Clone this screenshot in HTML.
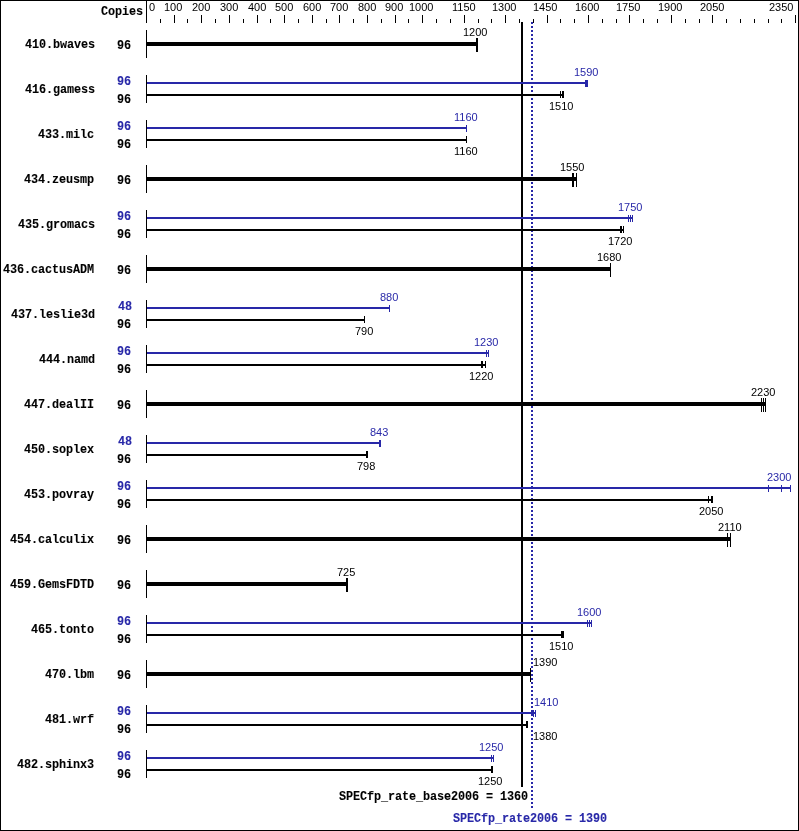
<!DOCTYPE html>
<html><head><meta charset="utf-8"><style>
html,body{margin:0;padding:0;background:#fff;}
body{width:799px;height:831px;position:relative;overflow:hidden;}
.r{position:absolute;}
.n{position:absolute;font-family:"Liberation Sans",sans-serif;font-size:11px;line-height:11px;white-space:nowrap;will-change:transform;}
.m{position:absolute;font-family:"Liberation Mono",monospace;font-weight:bold;font-size:11.8px;letter-spacing:-0.08px;line-height:12px;white-space:nowrap;transform:scaleY(1.07);transform-origin:0 0;-webkit-text-stroke:0.1px currentColor;will-change:transform;}
</style></head><body>
<div class="r" style="left:0px;top:0px;width:799px;height:1px;background:#000"></div><div class="r" style="left:0px;top:830px;width:799px;height:1px;background:#000"></div><div class="r" style="left:0px;top:0px;width:1px;height:831px;background:#000"></div><div class="r" style="left:798px;top:0px;width:1px;height:831px;background:#000"></div><div class="r" style="left:146px;top:0px;width:1px;height:23px;background:#000"></div><div class="r" style="left:146px;top:15px;width:1px;height:8px;background:#000"></div><div class="r" style="left:174px;top:15px;width:1px;height:8px;background:#000"></div><div class="r" style="left:201px;top:15px;width:1px;height:8px;background:#000"></div><div class="r" style="left:229px;top:15px;width:1px;height:8px;background:#000"></div><div class="r" style="left:257px;top:15px;width:1px;height:8px;background:#000"></div><div class="r" style="left:284px;top:15px;width:1px;height:8px;background:#000"></div><div class="r" style="left:312px;top:15px;width:1px;height:8px;background:#000"></div><div class="r" style="left:339px;top:15px;width:1px;height:8px;background:#000"></div><div class="r" style="left:367px;top:15px;width:1px;height:8px;background:#000"></div><div class="r" style="left:395px;top:15px;width:1px;height:8px;background:#000"></div><div class="r" style="left:422px;top:15px;width:1px;height:8px;background:#000"></div><div class="r" style="left:464px;top:15px;width:1px;height:8px;background:#000"></div><div class="r" style="left:505px;top:15px;width:1px;height:8px;background:#000"></div><div class="r" style="left:547px;top:15px;width:1px;height:8px;background:#000"></div><div class="r" style="left:588px;top:15px;width:1px;height:8px;background:#000"></div><div class="r" style="left:629px;top:15px;width:1px;height:8px;background:#000"></div><div class="r" style="left:671px;top:15px;width:1px;height:8px;background:#000"></div><div class="r" style="left:712px;top:15px;width:1px;height:8px;background:#000"></div><div class="r" style="left:795px;top:15px;width:1px;height:8px;background:#000"></div><div class="r" style="left:160px;top:19px;width:1px;height:4px;background:#000"></div><div class="r" style="left:187px;top:19px;width:1px;height:4px;background:#000"></div><div class="r" style="left:215px;top:19px;width:1px;height:4px;background:#000"></div><div class="r" style="left:243px;top:19px;width:1px;height:4px;background:#000"></div><div class="r" style="left:270px;top:19px;width:1px;height:4px;background:#000"></div><div class="r" style="left:298px;top:19px;width:1px;height:4px;background:#000"></div><div class="r" style="left:326px;top:19px;width:1px;height:4px;background:#000"></div><div class="r" style="left:353px;top:19px;width:1px;height:4px;background:#000"></div><div class="r" style="left:381px;top:19px;width:1px;height:4px;background:#000"></div><div class="r" style="left:408px;top:19px;width:1px;height:4px;background:#000"></div><div class="r" style="left:436px;top:19px;width:1px;height:4px;background:#000"></div><div class="r" style="left:450px;top:19px;width:1px;height:4px;background:#000"></div><div class="r" style="left:478px;top:19px;width:1px;height:4px;background:#000"></div><div class="r" style="left:491px;top:19px;width:1px;height:4px;background:#000"></div><div class="r" style="left:519px;top:19px;width:1px;height:4px;background:#000"></div><div class="r" style="left:533px;top:19px;width:1px;height:4px;background:#000"></div><div class="r" style="left:560px;top:19px;width:1px;height:4px;background:#000"></div><div class="r" style="left:574px;top:19px;width:1px;height:4px;background:#000"></div><div class="r" style="left:602px;top:19px;width:1px;height:4px;background:#000"></div><div class="r" style="left:616px;top:19px;width:1px;height:4px;background:#000"></div><div class="r" style="left:643px;top:19px;width:1px;height:4px;background:#000"></div><div class="r" style="left:657px;top:19px;width:1px;height:4px;background:#000"></div><div class="r" style="left:685px;top:19px;width:1px;height:4px;background:#000"></div><div class="r" style="left:699px;top:19px;width:1px;height:4px;background:#000"></div><div class="r" style="left:726px;top:19px;width:1px;height:4px;background:#000"></div><div class="r" style="left:740px;top:19px;width:1px;height:4px;background:#000"></div><div class="r" style="left:754px;top:19px;width:1px;height:4px;background:#000"></div><div class="r" style="left:768px;top:19px;width:1px;height:4px;background:#000"></div><div class="r" style="left:781px;top:19px;width:1px;height:4px;background:#000"></div><div class="r" style="left:521px;top:22px;width:2px;height:765px;background:#000"></div><div class="r" style="left:531px;top:22px;width:2px;height:2px;background:#2828a8"></div><div class="r" style="left:531px;top:26px;width:2px;height:2px;background:#2828a8"></div><div class="r" style="left:531px;top:30px;width:2px;height:2px;background:#2828a8"></div><div class="r" style="left:531px;top:34px;width:2px;height:2px;background:#2828a8"></div><div class="r" style="left:531px;top:38px;width:2px;height:2px;background:#2828a8"></div><div class="r" style="left:531px;top:42px;width:2px;height:2px;background:#2828a8"></div><div class="r" style="left:531px;top:46px;width:2px;height:2px;background:#2828a8"></div><div class="r" style="left:531px;top:50px;width:2px;height:2px;background:#2828a8"></div><div class="r" style="left:531px;top:54px;width:2px;height:2px;background:#2828a8"></div><div class="r" style="left:531px;top:58px;width:2px;height:2px;background:#2828a8"></div><div class="r" style="left:531px;top:62px;width:2px;height:2px;background:#2828a8"></div><div class="r" style="left:531px;top:66px;width:2px;height:2px;background:#2828a8"></div><div class="r" style="left:531px;top:70px;width:2px;height:2px;background:#2828a8"></div><div class="r" style="left:531px;top:74px;width:2px;height:2px;background:#2828a8"></div><div class="r" style="left:531px;top:78px;width:2px;height:2px;background:#2828a8"></div><div class="r" style="left:531px;top:82px;width:2px;height:2px;background:#2828a8"></div><div class="r" style="left:531px;top:86px;width:2px;height:2px;background:#2828a8"></div><div class="r" style="left:531px;top:90px;width:2px;height:2px;background:#2828a8"></div><div class="r" style="left:531px;top:94px;width:2px;height:2px;background:#2828a8"></div><div class="r" style="left:531px;top:98px;width:2px;height:2px;background:#2828a8"></div><div class="r" style="left:531px;top:102px;width:2px;height:2px;background:#2828a8"></div><div class="r" style="left:531px;top:106px;width:2px;height:2px;background:#2828a8"></div><div class="r" style="left:531px;top:110px;width:2px;height:2px;background:#2828a8"></div><div class="r" style="left:531px;top:114px;width:2px;height:2px;background:#2828a8"></div><div class="r" style="left:531px;top:118px;width:2px;height:2px;background:#2828a8"></div><div class="r" style="left:531px;top:122px;width:2px;height:2px;background:#2828a8"></div><div class="r" style="left:531px;top:126px;width:2px;height:2px;background:#2828a8"></div><div class="r" style="left:531px;top:130px;width:2px;height:2px;background:#2828a8"></div><div class="r" style="left:531px;top:134px;width:2px;height:2px;background:#2828a8"></div><div class="r" style="left:531px;top:138px;width:2px;height:2px;background:#2828a8"></div><div class="r" style="left:531px;top:142px;width:2px;height:2px;background:#2828a8"></div><div class="r" style="left:531px;top:146px;width:2px;height:2px;background:#2828a8"></div><div class="r" style="left:531px;top:150px;width:2px;height:2px;background:#2828a8"></div><div class="r" style="left:531px;top:154px;width:2px;height:2px;background:#2828a8"></div><div class="r" style="left:531px;top:158px;width:2px;height:2px;background:#2828a8"></div><div class="r" style="left:531px;top:162px;width:2px;height:2px;background:#2828a8"></div><div class="r" style="left:531px;top:166px;width:2px;height:2px;background:#2828a8"></div><div class="r" style="left:531px;top:170px;width:2px;height:2px;background:#2828a8"></div><div class="r" style="left:531px;top:174px;width:2px;height:2px;background:#2828a8"></div><div class="r" style="left:531px;top:178px;width:2px;height:2px;background:#2828a8"></div><div class="r" style="left:531px;top:182px;width:2px;height:2px;background:#2828a8"></div><div class="r" style="left:531px;top:186px;width:2px;height:2px;background:#2828a8"></div><div class="r" style="left:531px;top:190px;width:2px;height:2px;background:#2828a8"></div><div class="r" style="left:531px;top:194px;width:2px;height:2px;background:#2828a8"></div><div class="r" style="left:531px;top:198px;width:2px;height:2px;background:#2828a8"></div><div class="r" style="left:531px;top:202px;width:2px;height:2px;background:#2828a8"></div><div class="r" style="left:531px;top:206px;width:2px;height:2px;background:#2828a8"></div><div class="r" style="left:531px;top:210px;width:2px;height:2px;background:#2828a8"></div><div class="r" style="left:531px;top:214px;width:2px;height:2px;background:#2828a8"></div><div class="r" style="left:531px;top:218px;width:2px;height:2px;background:#2828a8"></div><div class="r" style="left:531px;top:222px;width:2px;height:2px;background:#2828a8"></div><div class="r" style="left:531px;top:226px;width:2px;height:2px;background:#2828a8"></div><div class="r" style="left:531px;top:230px;width:2px;height:2px;background:#2828a8"></div><div class="r" style="left:531px;top:234px;width:2px;height:2px;background:#2828a8"></div><div class="r" style="left:531px;top:238px;width:2px;height:2px;background:#2828a8"></div><div class="r" style="left:531px;top:242px;width:2px;height:2px;background:#2828a8"></div><div class="r" style="left:531px;top:246px;width:2px;height:2px;background:#2828a8"></div><div class="r" style="left:531px;top:250px;width:2px;height:2px;background:#2828a8"></div><div class="r" style="left:531px;top:254px;width:2px;height:2px;background:#2828a8"></div><div class="r" style="left:531px;top:258px;width:2px;height:2px;background:#2828a8"></div><div class="r" style="left:531px;top:262px;width:2px;height:2px;background:#2828a8"></div><div class="r" style="left:531px;top:266px;width:2px;height:2px;background:#2828a8"></div><div class="r" style="left:531px;top:270px;width:2px;height:2px;background:#2828a8"></div><div class="r" style="left:531px;top:274px;width:2px;height:2px;background:#2828a8"></div><div class="r" style="left:531px;top:278px;width:2px;height:2px;background:#2828a8"></div><div class="r" style="left:531px;top:282px;width:2px;height:2px;background:#2828a8"></div><div class="r" style="left:531px;top:286px;width:2px;height:2px;background:#2828a8"></div><div class="r" style="left:531px;top:290px;width:2px;height:2px;background:#2828a8"></div><div class="r" style="left:531px;top:294px;width:2px;height:2px;background:#2828a8"></div><div class="r" style="left:531px;top:298px;width:2px;height:2px;background:#2828a8"></div><div class="r" style="left:531px;top:302px;width:2px;height:2px;background:#2828a8"></div><div class="r" style="left:531px;top:306px;width:2px;height:2px;background:#2828a8"></div><div class="r" style="left:531px;top:310px;width:2px;height:2px;background:#2828a8"></div><div class="r" style="left:531px;top:314px;width:2px;height:2px;background:#2828a8"></div><div class="r" style="left:531px;top:318px;width:2px;height:2px;background:#2828a8"></div><div class="r" style="left:531px;top:322px;width:2px;height:2px;background:#2828a8"></div><div class="r" style="left:531px;top:326px;width:2px;height:2px;background:#2828a8"></div><div class="r" style="left:531px;top:330px;width:2px;height:2px;background:#2828a8"></div><div class="r" style="left:531px;top:334px;width:2px;height:2px;background:#2828a8"></div><div class="r" style="left:531px;top:338px;width:2px;height:2px;background:#2828a8"></div><div class="r" style="left:531px;top:342px;width:2px;height:2px;background:#2828a8"></div><div class="r" style="left:531px;top:346px;width:2px;height:2px;background:#2828a8"></div><div class="r" style="left:531px;top:350px;width:2px;height:2px;background:#2828a8"></div><div class="r" style="left:531px;top:354px;width:2px;height:2px;background:#2828a8"></div><div class="r" style="left:531px;top:358px;width:2px;height:2px;background:#2828a8"></div><div class="r" style="left:531px;top:362px;width:2px;height:2px;background:#2828a8"></div><div class="r" style="left:531px;top:366px;width:2px;height:2px;background:#2828a8"></div><div class="r" style="left:531px;top:370px;width:2px;height:2px;background:#2828a8"></div><div class="r" style="left:531px;top:374px;width:2px;height:2px;background:#2828a8"></div><div class="r" style="left:531px;top:378px;width:2px;height:2px;background:#2828a8"></div><div class="r" style="left:531px;top:382px;width:2px;height:2px;background:#2828a8"></div><div class="r" style="left:531px;top:386px;width:2px;height:2px;background:#2828a8"></div><div class="r" style="left:531px;top:390px;width:2px;height:2px;background:#2828a8"></div><div class="r" style="left:531px;top:394px;width:2px;height:2px;background:#2828a8"></div><div class="r" style="left:531px;top:398px;width:2px;height:2px;background:#2828a8"></div><div class="r" style="left:531px;top:402px;width:2px;height:2px;background:#2828a8"></div><div class="r" style="left:531px;top:406px;width:2px;height:2px;background:#2828a8"></div><div class="r" style="left:531px;top:410px;width:2px;height:2px;background:#2828a8"></div><div class="r" style="left:531px;top:414px;width:2px;height:2px;background:#2828a8"></div><div class="r" style="left:531px;top:418px;width:2px;height:2px;background:#2828a8"></div><div class="r" style="left:531px;top:422px;width:2px;height:2px;background:#2828a8"></div><div class="r" style="left:531px;top:426px;width:2px;height:2px;background:#2828a8"></div><div class="r" style="left:531px;top:430px;width:2px;height:2px;background:#2828a8"></div><div class="r" style="left:531px;top:434px;width:2px;height:2px;background:#2828a8"></div><div class="r" style="left:531px;top:438px;width:2px;height:2px;background:#2828a8"></div><div class="r" style="left:531px;top:442px;width:2px;height:2px;background:#2828a8"></div><div class="r" style="left:531px;top:446px;width:2px;height:2px;background:#2828a8"></div><div class="r" style="left:531px;top:450px;width:2px;height:2px;background:#2828a8"></div><div class="r" style="left:531px;top:454px;width:2px;height:2px;background:#2828a8"></div><div class="r" style="left:531px;top:458px;width:2px;height:2px;background:#2828a8"></div><div class="r" style="left:531px;top:462px;width:2px;height:2px;background:#2828a8"></div><div class="r" style="left:531px;top:466px;width:2px;height:2px;background:#2828a8"></div><div class="r" style="left:531px;top:470px;width:2px;height:2px;background:#2828a8"></div><div class="r" style="left:531px;top:474px;width:2px;height:2px;background:#2828a8"></div><div class="r" style="left:531px;top:478px;width:2px;height:2px;background:#2828a8"></div><div class="r" style="left:531px;top:482px;width:2px;height:2px;background:#2828a8"></div><div class="r" style="left:531px;top:486px;width:2px;height:2px;background:#2828a8"></div><div class="r" style="left:531px;top:490px;width:2px;height:2px;background:#2828a8"></div><div class="r" style="left:531px;top:494px;width:2px;height:2px;background:#2828a8"></div><div class="r" style="left:531px;top:498px;width:2px;height:2px;background:#2828a8"></div><div class="r" style="left:531px;top:502px;width:2px;height:2px;background:#2828a8"></div><div class="r" style="left:531px;top:506px;width:2px;height:2px;background:#2828a8"></div><div class="r" style="left:531px;top:510px;width:2px;height:2px;background:#2828a8"></div><div class="r" style="left:531px;top:514px;width:2px;height:2px;background:#2828a8"></div><div class="r" style="left:531px;top:518px;width:2px;height:2px;background:#2828a8"></div><div class="r" style="left:531px;top:522px;width:2px;height:2px;background:#2828a8"></div><div class="r" style="left:531px;top:526px;width:2px;height:2px;background:#2828a8"></div><div class="r" style="left:531px;top:530px;width:2px;height:2px;background:#2828a8"></div><div class="r" style="left:531px;top:534px;width:2px;height:2px;background:#2828a8"></div><div class="r" style="left:531px;top:538px;width:2px;height:2px;background:#2828a8"></div><div class="r" style="left:531px;top:542px;width:2px;height:2px;background:#2828a8"></div><div class="r" style="left:531px;top:546px;width:2px;height:2px;background:#2828a8"></div><div class="r" style="left:531px;top:550px;width:2px;height:2px;background:#2828a8"></div><div class="r" style="left:531px;top:554px;width:2px;height:2px;background:#2828a8"></div><div class="r" style="left:531px;top:558px;width:2px;height:2px;background:#2828a8"></div><div class="r" style="left:531px;top:562px;width:2px;height:2px;background:#2828a8"></div><div class="r" style="left:531px;top:566px;width:2px;height:2px;background:#2828a8"></div><div class="r" style="left:531px;top:570px;width:2px;height:2px;background:#2828a8"></div><div class="r" style="left:531px;top:574px;width:2px;height:2px;background:#2828a8"></div><div class="r" style="left:531px;top:578px;width:2px;height:2px;background:#2828a8"></div><div class="r" style="left:531px;top:582px;width:2px;height:2px;background:#2828a8"></div><div class="r" style="left:531px;top:586px;width:2px;height:2px;background:#2828a8"></div><div class="r" style="left:531px;top:590px;width:2px;height:2px;background:#2828a8"></div><div class="r" style="left:531px;top:594px;width:2px;height:2px;background:#2828a8"></div><div class="r" style="left:531px;top:598px;width:2px;height:2px;background:#2828a8"></div><div class="r" style="left:531px;top:602px;width:2px;height:2px;background:#2828a8"></div><div class="r" style="left:531px;top:606px;width:2px;height:2px;background:#2828a8"></div><div class="r" style="left:531px;top:610px;width:2px;height:2px;background:#2828a8"></div><div class="r" style="left:531px;top:614px;width:2px;height:2px;background:#2828a8"></div><div class="r" style="left:531px;top:618px;width:2px;height:2px;background:#2828a8"></div><div class="r" style="left:531px;top:622px;width:2px;height:2px;background:#2828a8"></div><div class="r" style="left:531px;top:626px;width:2px;height:2px;background:#2828a8"></div><div class="r" style="left:531px;top:630px;width:2px;height:2px;background:#2828a8"></div><div class="r" style="left:531px;top:634px;width:2px;height:2px;background:#2828a8"></div><div class="r" style="left:531px;top:638px;width:2px;height:2px;background:#2828a8"></div><div class="r" style="left:531px;top:642px;width:2px;height:2px;background:#2828a8"></div><div class="r" style="left:531px;top:646px;width:2px;height:2px;background:#2828a8"></div><div class="r" style="left:531px;top:650px;width:2px;height:2px;background:#2828a8"></div><div class="r" style="left:531px;top:654px;width:2px;height:2px;background:#2828a8"></div><div class="r" style="left:531px;top:658px;width:2px;height:2px;background:#2828a8"></div><div class="r" style="left:531px;top:662px;width:2px;height:2px;background:#2828a8"></div><div class="r" style="left:531px;top:666px;width:2px;height:2px;background:#2828a8"></div><div class="r" style="left:531px;top:670px;width:2px;height:2px;background:#2828a8"></div><div class="r" style="left:531px;top:674px;width:2px;height:2px;background:#2828a8"></div><div class="r" style="left:531px;top:678px;width:2px;height:2px;background:#2828a8"></div><div class="r" style="left:531px;top:682px;width:2px;height:2px;background:#2828a8"></div><div class="r" style="left:531px;top:686px;width:2px;height:2px;background:#2828a8"></div><div class="r" style="left:531px;top:690px;width:2px;height:2px;background:#2828a8"></div><div class="r" style="left:531px;top:694px;width:2px;height:2px;background:#2828a8"></div><div class="r" style="left:531px;top:698px;width:2px;height:2px;background:#2828a8"></div><div class="r" style="left:531px;top:702px;width:2px;height:2px;background:#2828a8"></div><div class="r" style="left:531px;top:706px;width:2px;height:2px;background:#2828a8"></div><div class="r" style="left:531px;top:710px;width:2px;height:2px;background:#2828a8"></div><div class="r" style="left:531px;top:714px;width:2px;height:2px;background:#2828a8"></div><div class="r" style="left:531px;top:718px;width:2px;height:2px;background:#2828a8"></div><div class="r" style="left:531px;top:722px;width:2px;height:2px;background:#2828a8"></div><div class="r" style="left:531px;top:726px;width:2px;height:2px;background:#2828a8"></div><div class="r" style="left:531px;top:730px;width:2px;height:2px;background:#2828a8"></div><div class="r" style="left:531px;top:734px;width:2px;height:2px;background:#2828a8"></div><div class="r" style="left:531px;top:738px;width:2px;height:2px;background:#2828a8"></div><div class="r" style="left:531px;top:742px;width:2px;height:2px;background:#2828a8"></div><div class="r" style="left:531px;top:746px;width:2px;height:2px;background:#2828a8"></div><div class="r" style="left:531px;top:750px;width:2px;height:2px;background:#2828a8"></div><div class="r" style="left:531px;top:754px;width:2px;height:2px;background:#2828a8"></div><div class="r" style="left:531px;top:758px;width:2px;height:2px;background:#2828a8"></div><div class="r" style="left:531px;top:762px;width:2px;height:2px;background:#2828a8"></div><div class="r" style="left:531px;top:766px;width:2px;height:2px;background:#2828a8"></div><div class="r" style="left:531px;top:770px;width:2px;height:2px;background:#2828a8"></div><div class="r" style="left:531px;top:774px;width:2px;height:2px;background:#2828a8"></div><div class="r" style="left:531px;top:778px;width:2px;height:2px;background:#2828a8"></div><div class="r" style="left:531px;top:782px;width:2px;height:2px;background:#2828a8"></div><div class="r" style="left:531px;top:786px;width:2px;height:2px;background:#2828a8"></div><div class="r" style="left:531px;top:790px;width:2px;height:2px;background:#2828a8"></div><div class="r" style="left:531px;top:794px;width:2px;height:2px;background:#2828a8"></div><div class="r" style="left:531px;top:798px;width:2px;height:2px;background:#2828a8"></div><div class="r" style="left:531px;top:802px;width:2px;height:2px;background:#2828a8"></div><div class="r" style="left:531px;top:806px;width:2px;height:2px;background:#2828a8"></div><div class="r" style="left:146px;top:30px;width:1px;height:28px;background:#000"></div><div class="r" style="left:147px;top:42px;width:330px;height:4px;background:#000"></div><div class="r" style="left:476px;top:38px;width:1px;height:14px;background:#000"></div><div class="r" style="left:477px;top:38px;width:1px;height:14px;background:#000"></div><div class="r" style="left:146px;top:75px;width:1px;height:28px;background:#000"></div><div class="r" style="left:147px;top:82px;width:440px;height:2px;background:#2828a8"></div><div class="r" style="left:585px;top:80px;width:1px;height:7px;background:#2828a8"></div><div class="r" style="left:586px;top:80px;width:1px;height:7px;background:#2828a8"></div><div class="r" style="left:587px;top:80px;width:1px;height:7px;background:#2828a8"></div><div class="r" style="left:147px;top:94px;width:416px;height:2px;background:#000"></div><div class="r" style="left:560px;top:91px;width:1px;height:7px;background:#000"></div><div class="r" style="left:562px;top:91px;width:1px;height:7px;background:#000"></div><div class="r" style="left:563px;top:91px;width:1px;height:7px;background:#000"></div><div class="r" style="left:146px;top:120px;width:1px;height:28px;background:#000"></div><div class="r" style="left:147px;top:127px;width:319px;height:2px;background:#2828a8"></div><div class="r" style="left:466px;top:125px;width:1px;height:7px;background:#2828a8"></div><div class="r" style="left:147px;top:139px;width:319px;height:2px;background:#000"></div><div class="r" style="left:466px;top:136px;width:1px;height:7px;background:#000"></div><div class="r" style="left:146px;top:165px;width:1px;height:28px;background:#000"></div><div class="r" style="left:147px;top:177px;width:429px;height:4px;background:#000"></div><div class="r" style="left:572px;top:173px;width:1px;height:14px;background:#000"></div><div class="r" style="left:573px;top:173px;width:1px;height:14px;background:#000"></div><div class="r" style="left:576px;top:173px;width:1px;height:14px;background:#000"></div><div class="r" style="left:146px;top:210px;width:1px;height:28px;background:#000"></div><div class="r" style="left:147px;top:217px;width:485px;height:2px;background:#2828a8"></div><div class="r" style="left:628px;top:215px;width:1px;height:7px;background:#2828a8"></div><div class="r" style="left:630px;top:215px;width:1px;height:7px;background:#2828a8"></div><div class="r" style="left:632px;top:215px;width:1px;height:7px;background:#2828a8"></div><div class="r" style="left:147px;top:229px;width:476px;height:2px;background:#000"></div><div class="r" style="left:620px;top:226px;width:1px;height:7px;background:#000"></div><div class="r" style="left:621px;top:226px;width:1px;height:7px;background:#000"></div><div class="r" style="left:623px;top:226px;width:1px;height:7px;background:#000"></div><div class="r" style="left:146px;top:255px;width:1px;height:28px;background:#000"></div><div class="r" style="left:147px;top:267px;width:463px;height:4px;background:#000"></div><div class="r" style="left:610px;top:263px;width:1px;height:14px;background:#000"></div><div class="r" style="left:146px;top:300px;width:1px;height:28px;background:#000"></div><div class="r" style="left:147px;top:307px;width:242px;height:2px;background:#2828a8"></div><div class="r" style="left:389px;top:305px;width:1px;height:7px;background:#2828a8"></div><div class="r" style="left:147px;top:319px;width:217px;height:2px;background:#000"></div><div class="r" style="left:364px;top:316px;width:1px;height:7px;background:#000"></div><div class="r" style="left:146px;top:345px;width:1px;height:28px;background:#000"></div><div class="r" style="left:147px;top:352px;width:341px;height:2px;background:#2828a8"></div><div class="r" style="left:486px;top:350px;width:1px;height:7px;background:#2828a8"></div><div class="r" style="left:488px;top:350px;width:1px;height:7px;background:#2828a8"></div><div class="r" style="left:147px;top:364px;width:338px;height:2px;background:#000"></div><div class="r" style="left:481px;top:361px;width:1px;height:7px;background:#000"></div><div class="r" style="left:482px;top:361px;width:1px;height:7px;background:#000"></div><div class="r" style="left:485px;top:361px;width:1px;height:7px;background:#000"></div><div class="r" style="left:146px;top:390px;width:1px;height:28px;background:#000"></div><div class="r" style="left:147px;top:402px;width:618px;height:4px;background:#000"></div><div class="r" style="left:761px;top:398px;width:1px;height:14px;background:#000"></div><div class="r" style="left:763px;top:398px;width:1px;height:14px;background:#000"></div><div class="r" style="left:765px;top:398px;width:1px;height:14px;background:#000"></div><div class="r" style="left:146px;top:435px;width:1px;height:28px;background:#000"></div><div class="r" style="left:147px;top:442px;width:233px;height:2px;background:#2828a8"></div><div class="r" style="left:379px;top:440px;width:1px;height:7px;background:#2828a8"></div><div class="r" style="left:380px;top:440px;width:1px;height:7px;background:#2828a8"></div><div class="r" style="left:147px;top:454px;width:220px;height:2px;background:#000"></div><div class="r" style="left:366px;top:451px;width:1px;height:7px;background:#000"></div><div class="r" style="left:367px;top:451px;width:1px;height:7px;background:#000"></div><div class="r" style="left:146px;top:480px;width:1px;height:28px;background:#000"></div><div class="r" style="left:147px;top:487px;width:643px;height:2px;background:#2828a8"></div><div class="r" style="left:768px;top:485px;width:1px;height:7px;background:#2828a8"></div><div class="r" style="left:781px;top:485px;width:1px;height:7px;background:#2828a8"></div><div class="r" style="left:790px;top:485px;width:1px;height:7px;background:#2828a8"></div><div class="r" style="left:147px;top:499px;width:565px;height:2px;background:#000"></div><div class="r" style="left:708px;top:496px;width:1px;height:7px;background:#000"></div><div class="r" style="left:711px;top:496px;width:1px;height:7px;background:#000"></div><div class="r" style="left:712px;top:496px;width:1px;height:7px;background:#000"></div><div class="r" style="left:146px;top:525px;width:1px;height:28px;background:#000"></div><div class="r" style="left:147px;top:537px;width:583px;height:4px;background:#000"></div><div class="r" style="left:727px;top:533px;width:1px;height:14px;background:#000"></div><div class="r" style="left:730px;top:533px;width:1px;height:14px;background:#000"></div><div class="r" style="left:146px;top:570px;width:1px;height:28px;background:#000"></div><div class="r" style="left:147px;top:582px;width:200px;height:4px;background:#000"></div><div class="r" style="left:346px;top:578px;width:1px;height:14px;background:#000"></div><div class="r" style="left:347px;top:578px;width:1px;height:14px;background:#000"></div><div class="r" style="left:146px;top:615px;width:1px;height:28px;background:#000"></div><div class="r" style="left:147px;top:622px;width:444px;height:2px;background:#2828a8"></div><div class="r" style="left:587px;top:620px;width:1px;height:7px;background:#2828a8"></div><div class="r" style="left:589px;top:620px;width:1px;height:7px;background:#2828a8"></div><div class="r" style="left:591px;top:620px;width:1px;height:7px;background:#2828a8"></div><div class="r" style="left:147px;top:634px;width:416px;height:2px;background:#000"></div><div class="r" style="left:561px;top:631px;width:1px;height:7px;background:#000"></div><div class="r" style="left:562px;top:631px;width:1px;height:7px;background:#000"></div><div class="r" style="left:563px;top:631px;width:1px;height:7px;background:#000"></div><div class="r" style="left:146px;top:660px;width:1px;height:28px;background:#000"></div><div class="r" style="left:147px;top:672px;width:383px;height:4px;background:#000"></div><div class="r" style="left:530px;top:668px;width:1px;height:14px;background:#000"></div><div class="r" style="left:146px;top:705px;width:1px;height:28px;background:#000"></div><div class="r" style="left:147px;top:712px;width:388px;height:2px;background:#2828a8"></div><div class="r" style="left:533px;top:710px;width:1px;height:7px;background:#2828a8"></div><div class="r" style="left:535px;top:710px;width:1px;height:7px;background:#2828a8"></div><div class="r" style="left:147px;top:724px;width:380px;height:2px;background:#000"></div><div class="r" style="left:526px;top:721px;width:1px;height:7px;background:#000"></div><div class="r" style="left:527px;top:721px;width:1px;height:7px;background:#000"></div><div class="r" style="left:146px;top:750px;width:1px;height:28px;background:#000"></div><div class="r" style="left:147px;top:757px;width:346px;height:2px;background:#2828a8"></div><div class="r" style="left:491px;top:755px;width:1px;height:7px;background:#2828a8"></div><div class="r" style="left:493px;top:755px;width:1px;height:7px;background:#2828a8"></div><div class="r" style="left:147px;top:769px;width:345px;height:2px;background:#000"></div><div class="r" style="left:491px;top:766px;width:1px;height:7px;background:#000"></div><div class="r" style="left:492px;top:766px;width:1px;height:7px;background:#000"></div>
<div class="n" style="left:149.00px;top:2.00px;color:#000">0</div><div class="n" style="left:164.00px;top:2.00px;color:#000">100</div><div class="n" style="left:191.50px;top:2.00px;color:#000">200</div><div class="n" style="left:219.50px;top:2.00px;color:#000">300</div><div class="n" style="left:248.00px;top:2.00px;color:#000">400</div><div class="n" style="left:274.50px;top:2.00px;color:#000">500</div><div class="n" style="left:302.50px;top:2.00px;color:#000">600</div><div class="n" style="left:329.50px;top:2.00px;color:#000">700</div><div class="n" style="left:357.50px;top:2.00px;color:#000">800</div><div class="n" style="left:384.50px;top:2.00px;color:#000">900</div><div class="n" style="left:409.00px;top:2.00px;color:#000">1000</div><div class="n" style="left:452.00px;top:2.00px;color:#000">1150</div><div class="n" style="left:492.00px;top:2.00px;color:#000">1300</div><div class="n" style="left:533.00px;top:2.00px;color:#000">1450</div><div class="n" style="left:575.00px;top:2.00px;color:#000">1600</div><div class="n" style="left:616.00px;top:2.00px;color:#000">1750</div><div class="n" style="left:658.00px;top:2.00px;color:#000">1900</div><div class="n" style="left:699.50px;top:2.00px;color:#000">2050</div><div class="n" style="left:768.50px;top:2.00px;color:#000">2350</div><div class="m" style="left:101.00px;top:4.50px;color:#000">Copies</div><div class="m" style="left:24.50px;top:37.50px;color:#000">410.bwaves</div><div class="m" style="left:117.00px;top:38.50px;color:#000">96</div><div class="n" style="left:463.00px;top:27.00px;color:#000">1200</div><div class="m" style="left:24.50px;top:82.50px;color:#000">416.gamess</div><div class="m" style="left:117.00px;top:74.50px;color:#2828a8">96</div><div class="n" style="left:573.50px;top:67.00px;color:#2828a8">1590</div><div class="m" style="left:117.00px;top:92.50px;color:#000">96</div><div class="n" style="left:549.00px;top:101.00px;color:#000">1510</div><div class="m" style="left:38.00px;top:127.50px;color:#000">433.milc</div><div class="m" style="left:117.00px;top:119.50px;color:#2828a8">96</div><div class="n" style="left:454.00px;top:112.00px;color:#2828a8">1160</div><div class="m" style="left:117.00px;top:137.50px;color:#000">96</div><div class="n" style="left:454.00px;top:146.00px;color:#000">1160</div><div class="m" style="left:24.00px;top:172.50px;color:#000">434.zeusmp</div><div class="m" style="left:117.00px;top:173.50px;color:#000">96</div><div class="n" style="left:560.00px;top:162.00px;color:#000">1550</div><div class="m" style="left:17.50px;top:217.50px;color:#000">435.gromacs</div><div class="m" style="left:117.00px;top:209.50px;color:#2828a8">96</div><div class="n" style="left:617.50px;top:202.00px;color:#2828a8">1750</div><div class="m" style="left:117.00px;top:227.50px;color:#000">96</div><div class="n" style="left:608.00px;top:236.00px;color:#000">1720</div><div class="m" style="left:3.00px;top:262.50px;color:#000">436.cactusADM</div><div class="m" style="left:117.00px;top:263.50px;color:#000">96</div><div class="n" style="left:597.00px;top:252.00px;color:#000">1680</div><div class="m" style="left:10.50px;top:307.50px;color:#000">437.leslie3d</div><div class="m" style="left:118.00px;top:299.50px;color:#2828a8">48</div><div class="n" style="left:380.00px;top:292.00px;color:#2828a8">880</div><div class="m" style="left:117.00px;top:317.50px;color:#000">96</div><div class="n" style="left:355.00px;top:326.00px;color:#000">790</div><div class="m" style="left:38.50px;top:352.50px;color:#000">444.namd</div><div class="m" style="left:117.00px;top:344.50px;color:#2828a8">96</div><div class="n" style="left:473.50px;top:337.00px;color:#2828a8">1230</div><div class="m" style="left:117.00px;top:362.50px;color:#000">96</div><div class="n" style="left:469.00px;top:371.00px;color:#000">1220</div><div class="m" style="left:24.00px;top:397.50px;color:#000">447.dealII</div><div class="m" style="left:117.00px;top:398.50px;color:#000">96</div><div class="n" style="left:750.50px;top:387.00px;color:#000">2230</div><div class="m" style="left:24.00px;top:442.50px;color:#000">450.soplex</div><div class="m" style="left:118.00px;top:434.50px;color:#2828a8">48</div><div class="n" style="left:370.00px;top:427.00px;color:#2828a8">843</div><div class="m" style="left:117.00px;top:452.50px;color:#000">96</div><div class="n" style="left:357.00px;top:461.00px;color:#000">798</div><div class="m" style="left:24.00px;top:487.50px;color:#000">453.povray</div><div class="m" style="left:117.00px;top:479.50px;color:#2828a8">96</div><div class="n" style="left:767.00px;top:472.00px;color:#2828a8">2300</div><div class="m" style="left:117.00px;top:497.50px;color:#000">96</div><div class="n" style="left:698.50px;top:506.00px;color:#000">2050</div><div class="m" style="left:10.00px;top:532.50px;color:#000">454.calculix</div><div class="m" style="left:117.00px;top:533.50px;color:#000">96</div><div class="n" style="left:718.00px;top:522.00px;color:#000">2110</div><div class="m" style="left:10.00px;top:577.50px;color:#000">459.GemsFDTD</div><div class="m" style="left:117.00px;top:578.50px;color:#000">96</div><div class="n" style="left:337.00px;top:567.00px;color:#000">725</div><div class="m" style="left:31.00px;top:622.50px;color:#000">465.tonto</div><div class="m" style="left:117.00px;top:614.50px;color:#2828a8">96</div><div class="n" style="left:576.50px;top:607.00px;color:#2828a8">1600</div><div class="m" style="left:117.00px;top:632.50px;color:#000">96</div><div class="n" style="left:549.00px;top:641.00px;color:#000">1510</div><div class="m" style="left:45.00px;top:667.50px;color:#000">470.lbm</div><div class="m" style="left:117.00px;top:668.50px;color:#000">96</div><div class="n" style="left:533.00px;top:657.00px;color:#000">1390</div><div class="m" style="left:45.00px;top:712.50px;color:#000">481.wrf</div><div class="m" style="left:117.00px;top:704.50px;color:#2828a8">96</div><div class="n" style="left:533.50px;top:697.00px;color:#2828a8">1410</div><div class="m" style="left:117.00px;top:722.50px;color:#000">96</div><div class="n" style="left:533.00px;top:731.00px;color:#000">1380</div><div class="m" style="left:17.00px;top:757.50px;color:#000">482.sphinx3</div><div class="m" style="left:117.00px;top:749.50px;color:#2828a8">96</div><div class="n" style="left:478.50px;top:742.00px;color:#2828a8">1250</div><div class="m" style="left:117.00px;top:767.50px;color:#000">96</div><div class="n" style="left:478.00px;top:776.00px;color:#000">1250</div><div class="m" style="left:339.00px;top:789.50px;color:#000">SPECfp_rate_base2006 = 1360</div><div class="m" style="left:453.00px;top:811.50px;color:#2828a8">SPECfp_rate2006 = 1390</div>
</body></html>
